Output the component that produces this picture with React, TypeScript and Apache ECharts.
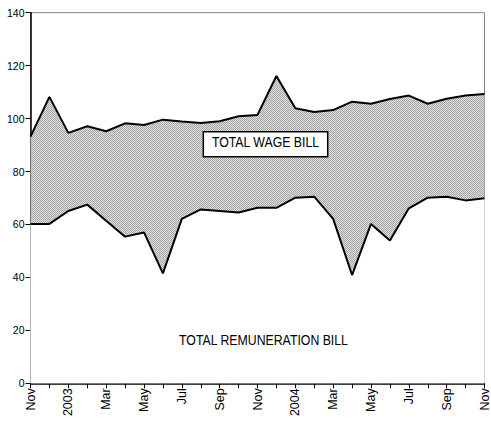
import React, { useEffect, useRef } from "react";
import * as echarts from "echarts";

const months = [
  "Nov", "Dec", "2003", "Feb", "Mar", "Apr", "May", "Jun", "Jul", "Aug", "Sep", "Oct",
  "Nov", "Dec", "2004", "Feb", "Mar", "Apr", "May", "Jun", "Jul", "Aug", "Sep", "Oct", "Nov",
];
const totalWageBill = [
  93.2, 108.2, 94.6, 97.1, 95.2, 98.2, 97.6, 99.6, 98.9, 98.3, 99.0, 100.9,
  101.4, 116.1, 103.9, 102.5, 103.2, 106.4, 105.6, 107.4, 108.7, 105.6, 107.5, 108.7, 109.3,
];
const totalRemunerationBill = [
  60.2, 60.2, 65.1, 67.5, 61.4, 55.4, 57.0, 41.5, 62.1, 65.7, 65.1, 64.5,
  66.3, 66.3, 70.1, 70.5, 62.1, 40.9, 60.2, 53.9, 66.1, 70.1, 70.5, 69.1, 69.9,
];
const yTicks = { min: 0, max: 140, interval: 20 };
const wageLabel = "TOTAL WAGE BILL";
const remunerationLabel = "TOTAL REMUNERATION BILL";

const SANS = "'Liberation Sans', Arial, sans-serif";

function makePattern(): string {
  const c = document.createElement("canvas");
  c.width = 2;
  c.height = 2;
  const ctx = c.getContext("2d");
  if (ctx) {
    ctx.fillStyle = "#e0e0e0";
    ctx.fillRect(0, 0, 2, 2);
    ctx.fillStyle = "#a4a4a4";
    ctx.fillRect(0, 0, 1, 1);
    ctx.fillRect(1, 1, 1, 1);
  }
  return c.toDataURL();
}

export default function App() {
  const ref = useRef<HTMLDivElement>(null);
  useEffect(() => {
    document.body.style.margin = "0";
    if (!ref.current) return;
    const chart = echarts.init(ref.current, undefined, { renderer: "svg" });
    const pattern = makePattern();
    chart.setOption({
      animation: false,
      backgroundColor: "#ffffff",
      grid: {
        left: 30.5,
        top: 12.7,
        right: 6,
        bottom: 38.7,
        show: true,
        borderColor: "#808080",
        borderWidth: 1,
        backgroundColor: "transparent",
      },
      xAxis: {
        type: "category",
        data: months,
        boundaryGap: false,
        axisLine: { lineStyle: { color: "#000", width: 1.5 } },
        axisTick: { show: true, interval: 0, length: 5, lineStyle: { color: "#000", width: 1 } },
        axisLabel: {
          interval: 1,
          rotate: 90,
          margin: 5,
          color: "#000",
          fontSize: 12.5,
          fontFamily: SANS,
        },
        splitLine: { show: false },
      },
      yAxis: {
        type: "value",
        min: yTicks.min,
        max: yTicks.max,
        interval: yTicks.interval,
        axisLine: { show: true, lineStyle: { color: "#000", width: 1.5 } },
        axisTick: { show: true, length: 5, lineStyle: { color: "#000", width: 1 } },
        axisLabel: { color: "#000", fontSize: 10.5, fontFamily: SANS, margin: 6 },
        splitLine: { show: false },
      },
      series: [
        {
          name: "Total wage bill",
          type: "line",
          data: totalWageBill,
          symbol: "none",
          lineStyle: { color: "#000", width: 2 },
          areaStyle: { color: { image: pattern, repeat: "repeat" }, opacity: 1 },
          z: 2,
        },
        {
          name: "Total remuneration bill",
          type: "line",
          data: totalRemunerationBill,
          symbol: "none",
          lineStyle: { color: "#000", width: 2 },
          areaStyle: { color: "#ffffff", opacity: 1 },
          z: 3,
        },
      ],
      graphic: [
        {
          type: "rect",
          shape: { x: 203.3, y: 131.7, width: 124.4, height: 25 },
          style: { fill: "#fff", stroke: "#000", lineWidth: 1.5 },
          z: 100,
        },
        {
          type: "text",
          x: 265.5,
          y: 142.1,
          scaleX: 0.82,
          style: {
            text: wageLabel,
            fill: "#000",
            font: `15px ${SANS}`,
            align: "center",
            verticalAlign: "middle",
          },
          z: 101,
        },
        {
          type: "text",
          x: 263.5,
          y: 340,
          scaleX: 0.82,
          style: {
            text: remunerationLabel,
            fill: "#000",
            font: `15px ${SANS}`,
            align: "center",
            verticalAlign: "middle",
          },
          z: 101,
        },
      ],
    });
    return () => chart.dispose();
  }, []);
  return (
    <div
      ref={ref}
      style={{ position: "absolute", left: 0, top: 0, width: 491, height: 422 }}
    />
  );
}
